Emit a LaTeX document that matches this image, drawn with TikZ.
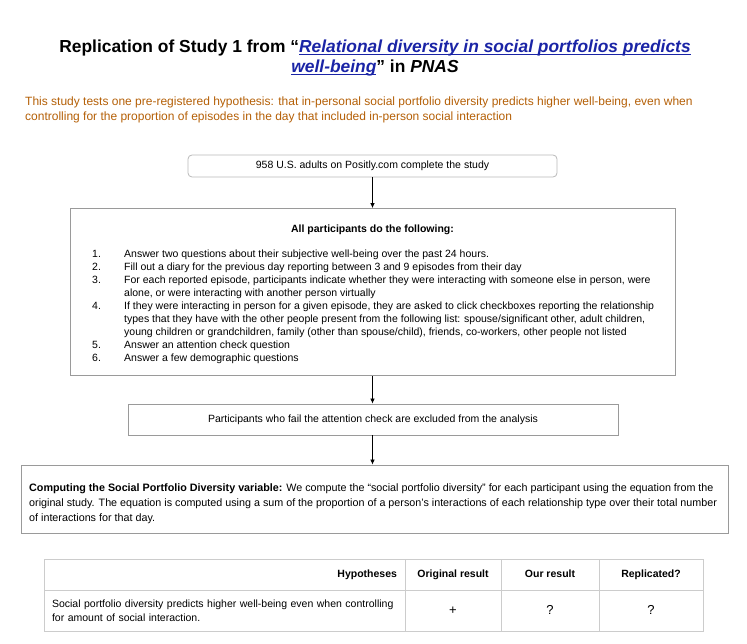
\documentclass[tikz,border=0pt]{standalone}
\usepackage{fontspec}
\setmainfont{Liberation Sans}
\usetikzlibrary{arrows.meta,positioning,calc}
\definecolor{rustorange}{HTML}{B45F06}
\definecolor{linkblue}{HTML}{1A24A6}
\definecolor{boxgray}{HTML}{9A9A9A}
\definecolor{rulegray}{HTML}{CCCCCC}
\newsavebox{\linkbox}
\newcommand{\linktext}[1]{\textcolor{linkblue}{\sbox{\linkbox}{\textit{#1}}\rlap{\rule[-2.4pt]{\wd\linkbox}{1.1pt}}\usebox{\linkbox}}}
\newcommand{\bodysize}{\fontsize{10.5}{13}\selectfont}

\begin{document}
\begin{tikzpicture}[x=1pt,y=-1pt,>=Latex,
  txt/.style={inner sep=0pt,font=\bodysize},
  flowbox/.style={draw=boxgray,line width=0.8pt,inner sep=0pt,font=\bodysize},
  flowarrow/.style={-{Latex[length=5pt,width=4.5pt]},line width=0.7pt},
  cell/.style={draw=rulegray,line width=0.8pt,inner sep=0pt,text height=8pt,text depth=2pt,font=\bodysize}]
 \useasboundingbox (0,0) rectangle (747,644);
 % title and aim
 \node[anchor=base,inner sep=0pt,font=\fontsize{17.4}{20}\selectfont\bfseries] (title1) at (375,53)
  {Replication of Study 1 from “\linktext{Relational diversity in social portfolios predicts}};
 \node[anchor=base,inner sep=0pt,font=\fontsize{17.4}{20}\selectfont\bfseries] (title2) at (375,73)
  {\linktext{well-being}” in \textit{PNAS}};
 \node[anchor=base west,txt,text=rustorange,align=left,font=\fontsize{12}{15}\selectfont] (aim) at (25,121)
  {This study tests one pre-registered hypothesis: that in-personal social portfolio diversity predicts higher well-being, even when\\
   controlling for the proportion of episodes in the day that included in-person social interaction};
 % flow
 \node[flowbox,draw=boxgray!70,rounded corners=4pt,minimum width=369,minimum height=22] (sample) at (372.5,166)
  {958 U.S. adults on Positly.com complete the study};
 \node[flowbox,minimum width=605,minimum height=167] (tasks) at (372.5,292) {};
 \node[txt,font=\bodysize\bfseries,anchor=base] (taskhead) at (372.5,233) {All participants do the following:};
 \node[txt,anchor=north west] (tasklist) at (92,248) {%
  \begin{tabular}{@{}p{32pt}@{}l@{}}
  1. & Answer two questions about their subjective well-being over the past 24 hours.\\
  2. & Fill out a diary for the previous day reporting between 3 and 9 episodes from their day\\
  3. & For each reported episode, participants indicate whether they were interacting with someone else in person, were\\
     & alone, or were interacting with another person virtually\\
  4. & If they were interacting in person for a given episode, they are asked to click checkboxes reporting the relationship\\
     & types that they have with the other people present from the following list: spouse/significant other, adult children,\\
     & young children or grandchildren, family (other than spouse/child), friends, co-workers, other people not listed\\
  5. & Answer an attention check question\\
  6. & Answer a few demographic questions
  \end{tabular}};
 \node[flowbox,minimum width=490,minimum height=31] (exclude) at (373,419.5)
  {Participants who fail the attention check are excluded from the analysis};
 \node[flowbox,minimum width=707,minimum height=68] (compute) at (374.5,499) {};
 \node[txt,anchor=north west,align=left,font=\fontsize{10.75}{15}\selectfont] (computetext) at (29,484)
  {\textbf{Computing the Social Portfolio Diversity variable:} We compute the “social portfolio diversity” for each participant using the equation from the\\
   original study. The equation is computed using a sum of the proportion of a person’s interactions of each relationship type over their total number\\
   of interactions for that day.};
 \draw[flowarrow] (sample.south) -- (sample.south |- tasks.north);
 \draw[flowarrow] (sample.south |- tasks.south) -- (sample.south |- exclude.north);
 \draw[flowarrow] (sample.south |- exclude.south) -- (sample.south |- compute.north);
 % results table
 \node[cell,minimum width=361,minimum height=31,text width=345,align=right,font=\bodysize\bfseries] (hyphead) at (224.5,574.5) {Hypotheses};
 \node[cell,minimum width=361,minimum height=41,text width=345,align=left,text height=,text depth=,font=\fontsize{10.5}{14}\selectfont] (hyprow) at (224.5,610.5)
  {Social portfolio diversity predicts higher well-being even when controlling\\for amount of social interaction.};
 \foreach \cx/\cw/\head/\res/\nm in {453/96/Original result/+/orig,550/98/Our result/?/ours,651/104/Replicated?/?/repl}{
  \node[cell,minimum width=\cw,minimum height=31,font=\bodysize\bfseries] (\nm head) at (\cx,574.5) {\head};
  \node[cell,minimum width=\cw,minimum height=41,text height=9pt,text depth=1pt,font=\fontsize{13}{15}\selectfont] (\nm res) at (\cx,610.5) {\res};}
\end{tikzpicture}
\end{document}
